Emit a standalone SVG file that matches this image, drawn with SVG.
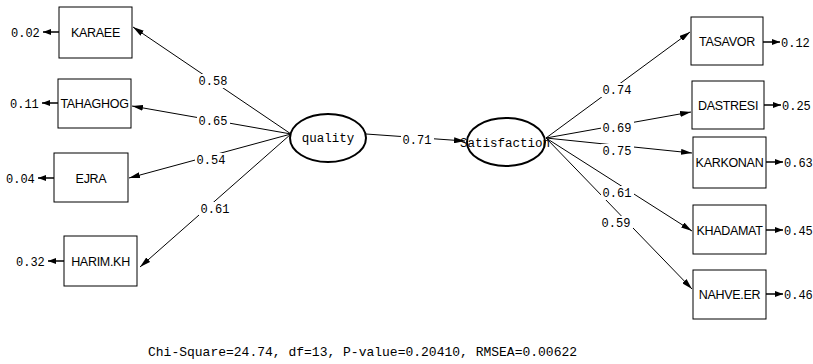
<svg xmlns="http://www.w3.org/2000/svg" width="813" height="364" viewBox="0 0 813 364">
<defs>
<marker id="ah" viewBox="0 0 11 6" refX="11" refY="3" markerWidth="11" markerHeight="6" markerUnits="userSpaceOnUse" orient="auto">
<path d="M0,0 L11,3 L0,6 Z" fill="#000"/>
</marker>
<marker id="eh" viewBox="0 0 8 6" refX="8" refY="3" markerWidth="8" markerHeight="6" markerUnits="userSpaceOnUse" orient="auto">
<path d="M0,0 L8,3 L0,6 Z" fill="#000"/>
</marker>
</defs>
<style>
.box{fill:#fff;stroke:#000;stroke-width:1}
.lat{fill:#fff;stroke:#000;stroke-width:2}
.bl{font-family:"Liberation Sans",Arial,sans-serif;font-size:12.5px;text-anchor:middle;fill:#000;letter-spacing:-0.3px}
.ll{font-family:"Liberation Mono","Courier New",monospace;font-size:12.5px;text-anchor:middle;fill:#000}
.num{font-family:"Liberation Mono","Courier New",monospace;font-size:12px;fill:#000}
.pl{text-anchor:middle}
.bg{fill:#fff}
.ln{stroke:#000;stroke-width:1;fill:none;marker-end:url(#ah)}
.er{stroke:#000;stroke-width:1.5;fill:none;marker-end:url(#eh)}
.foot{font-family:"Liberation Mono","Courier New",monospace;font-size:13px;fill:#000}
</style>
<rect width="813" height="364" fill="#fff"/>
<g id="connectors">
<line class="ln" x1="291" y1="134" x2="133" y2="27"/>
<line class="ln" x1="291" y1="134" x2="132" y2="106"/>
<line class="ln" x1="291" y1="134" x2="129" y2="178"/>
<line class="ln" x1="291" y1="134" x2="140" y2="267"/>
<line class="ln" x1="366" y1="134" x2="465" y2="141"/>
<line class="ln" x1="546" y1="138" x2="690" y2="32"/>
<line class="ln" x1="546" y1="138" x2="691" y2="112"/>
<line class="ln" x1="546" y1="138" x2="692" y2="153"/>
<line class="ln" x1="546" y1="138" x2="692" y2="231"/>
<line class="ln" x1="546" y1="138" x2="692" y2="289"/>
<line class="er" x1="59" y1="32" x2="43" y2="32"/>
<line class="er" x1="58" y1="103" x2="42" y2="103"/>
<line class="er" x1="54" y1="178" x2="38" y2="178"/>
<line class="er" x1="64" y1="261" x2="48" y2="261"/>
<line class="er" x1="763" y1="42" x2="780" y2="42"/>
<line class="er" x1="764" y1="105" x2="781" y2="105"/>
<line class="er" x1="766" y1="162" x2="783" y2="162"/>
<line class="er" x1="766" y1="230" x2="783" y2="230"/>
<line class="er" x1="766" y1="294" x2="783" y2="294"/>
<rect class="bg" x="197" y="74" width="33" height="14"/>
<rect class="bg" x="197" y="114" width="33" height="14"/>
<rect class="bg" x="195" y="153" width="33" height="14"/>
<rect class="bg" x="199" y="202" width="33" height="14"/>
<rect class="bg" x="401" y="133" width="33" height="14"/>
<rect class="bg" x="601" y="83" width="33" height="14"/>
<rect class="bg" x="601" y="121" width="33" height="14"/>
<rect class="bg" x="601" y="144" width="33" height="14"/>
<rect class="bg" x="601" y="186" width="33" height="14"/>
<rect class="bg" x="600" y="216" width="33" height="14"/>
<text class="num pl" x="213" y="85">0.58</text>
<text class="num pl" x="213" y="125">0.65</text>
<text class="num pl" x="211" y="164">0.54</text>
<text class="num pl" x="215" y="213">0.61</text>
<text class="num pl" x="417" y="144">0.71</text>
<text class="num pl" x="617" y="94">0.74</text>
<text class="num pl" x="617" y="132">0.69</text>
<text class="num pl" x="617" y="155">0.75</text>
<text class="num pl" x="617" y="197">0.61</text>
<text class="num pl" x="616" y="227">0.59</text>
</g>
<g id="KARAEE"><rect class="box" x="59" y="7" width="73" height="51"/><text class="bl" x="95.5" y="37">KARAEE</text><text class="num" x="11" y="37">0.02</text></g>
<g id="TAHAGHOG"><rect class="box" x="58" y="79" width="73" height="49"/><text class="bl" x="94.5" y="108">TAHAGHOG</text><text class="num" x="10" y="108">0.11</text></g>
<g id="EJRA"><rect class="box" x="54" y="153" width="74" height="49"/><text class="bl" x="91" y="183">EJRA</text><text class="num" x="6" y="183">0.04</text></g>
<g id="HARIM.KH"><rect class="box" x="64" y="236" width="73" height="50"/><text class="bl" x="100.5" y="266">HARIM.KH</text><text class="num" x="16" y="266">0.32</text></g>
<g id="quality"><ellipse class="lat" cx="328" cy="138" rx="38" ry="24"/><text class="ll" x="328" y="142">quality</text></g>
<g id="Satisfaction"><ellipse class="lat" cx="506" cy="142" rx="39" ry="24"/><text class="ll" x="505" y="147">Satisfaction</text></g>
<g id="TASAVOR"><rect class="box" x="691" y="17" width="72" height="48"/><text class="bl" x="727" y="46">TASAVOR</text><text class="num" x="781" y="47">0.12</text></g>
<g id="DASTRESI"><rect class="box" x="692" y="81" width="72" height="48"/><text class="bl" x="728" y="110">DASTRESI</text><text class="num" x="782" y="110">0.25</text></g>
<g id="KARKONAN"><rect class="box" x="693" y="137" width="73" height="51"/><text class="bl" x="729.5" y="167">KARKONAN</text><text class="num" x="784" y="167">0.63</text></g>
<g id="KHADAMAT"><rect class="box" x="693" y="205" width="73" height="49"/><text class="bl" x="729.5" y="235">KHADAMAT</text><text class="num" x="784" y="235">0.45</text></g>
<g id="NAHVE.ER"><rect class="box" x="693" y="270" width="73" height="49"/><text class="bl" x="729.5" y="299">NAHVE.ER</text><text class="num" x="784" y="299">0.46</text></g>
<text class="foot" x="148" y="356">Chi-Square=24.74, df=13, P-value=0.20410, RMSEA=0.00622</text>
</svg>
